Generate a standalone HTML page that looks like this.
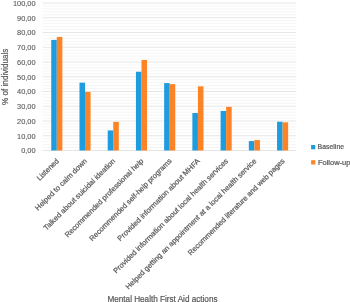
<!DOCTYPE html>
<html><head><meta charset="utf-8"><style>
html,body{margin:0;padding:0;background:#fff;width:350px;height:302px;overflow:hidden}
svg{display:block;filter:blur(0.35px)}
text{font-family:"Liberation Sans",sans-serif;fill:#595959;stroke:#595959;stroke-width:0.22px}
.yl{font-size:7.4px;stroke-width:0.1px}
.xl{font-size:7.4px}
.yt{font-size:8.6px}
.xt{font-size:8.5px}
.lg{font-size:7.3px}
</style></head><body>
<svg width="350" height="302" viewBox="0 0 350 302">
<line x1="42.69" x2="296.30" y1="147.55" y2="147.55" stroke="#F3F3F3" stroke-width="0.75"/>
<line x1="42.69" x2="296.30" y1="144.60" y2="144.60" stroke="#F3F3F3" stroke-width="0.75"/>
<line x1="42.69" x2="296.30" y1="141.65" y2="141.65" stroke="#F3F3F3" stroke-width="0.75"/>
<line x1="42.69" x2="296.30" y1="138.70" y2="138.70" stroke="#F3F3F3" stroke-width="0.75"/>
<line x1="42.69" x2="296.30" y1="132.80" y2="132.80" stroke="#F3F3F3" stroke-width="0.75"/>
<line x1="42.69" x2="296.30" y1="129.85" y2="129.85" stroke="#F3F3F3" stroke-width="0.75"/>
<line x1="42.69" x2="296.30" y1="126.90" y2="126.90" stroke="#F3F3F3" stroke-width="0.75"/>
<line x1="42.69" x2="296.30" y1="123.95" y2="123.95" stroke="#F3F3F3" stroke-width="0.75"/>
<line x1="42.69" x2="296.30" y1="118.05" y2="118.05" stroke="#F3F3F3" stroke-width="0.75"/>
<line x1="42.69" x2="296.30" y1="115.10" y2="115.10" stroke="#F3F3F3" stroke-width="0.75"/>
<line x1="42.69" x2="296.30" y1="112.15" y2="112.15" stroke="#F3F3F3" stroke-width="0.75"/>
<line x1="42.69" x2="296.30" y1="109.20" y2="109.20" stroke="#F3F3F3" stroke-width="0.75"/>
<line x1="42.69" x2="296.30" y1="103.30" y2="103.30" stroke="#F3F3F3" stroke-width="0.75"/>
<line x1="42.69" x2="296.30" y1="100.35" y2="100.35" stroke="#F3F3F3" stroke-width="0.75"/>
<line x1="42.69" x2="296.30" y1="97.40" y2="97.40" stroke="#F3F3F3" stroke-width="0.75"/>
<line x1="42.69" x2="296.30" y1="94.45" y2="94.45" stroke="#F3F3F3" stroke-width="0.75"/>
<line x1="42.69" x2="296.30" y1="88.55" y2="88.55" stroke="#F3F3F3" stroke-width="0.75"/>
<line x1="42.69" x2="296.30" y1="85.60" y2="85.60" stroke="#F3F3F3" stroke-width="0.75"/>
<line x1="42.69" x2="296.30" y1="82.65" y2="82.65" stroke="#F3F3F3" stroke-width="0.75"/>
<line x1="42.69" x2="296.30" y1="79.70" y2="79.70" stroke="#F3F3F3" stroke-width="0.75"/>
<line x1="42.69" x2="296.30" y1="73.80" y2="73.80" stroke="#F3F3F3" stroke-width="0.75"/>
<line x1="42.69" x2="296.30" y1="70.85" y2="70.85" stroke="#F3F3F3" stroke-width="0.75"/>
<line x1="42.69" x2="296.30" y1="67.90" y2="67.90" stroke="#F3F3F3" stroke-width="0.75"/>
<line x1="42.69" x2="296.30" y1="64.95" y2="64.95" stroke="#F3F3F3" stroke-width="0.75"/>
<line x1="42.69" x2="296.30" y1="59.05" y2="59.05" stroke="#F3F3F3" stroke-width="0.75"/>
<line x1="42.69" x2="296.30" y1="56.10" y2="56.10" stroke="#F3F3F3" stroke-width="0.75"/>
<line x1="42.69" x2="296.30" y1="53.15" y2="53.15" stroke="#F3F3F3" stroke-width="0.75"/>
<line x1="42.69" x2="296.30" y1="50.20" y2="50.20" stroke="#F3F3F3" stroke-width="0.75"/>
<line x1="42.69" x2="296.30" y1="44.30" y2="44.30" stroke="#F3F3F3" stroke-width="0.75"/>
<line x1="42.69" x2="296.30" y1="41.35" y2="41.35" stroke="#F3F3F3" stroke-width="0.75"/>
<line x1="42.69" x2="296.30" y1="38.40" y2="38.40" stroke="#F3F3F3" stroke-width="0.75"/>
<line x1="42.69" x2="296.30" y1="35.45" y2="35.45" stroke="#F3F3F3" stroke-width="0.75"/>
<line x1="42.69" x2="296.30" y1="29.55" y2="29.55" stroke="#F3F3F3" stroke-width="0.75"/>
<line x1="42.69" x2="296.30" y1="26.60" y2="26.60" stroke="#F3F3F3" stroke-width="0.75"/>
<line x1="42.69" x2="296.30" y1="23.65" y2="23.65" stroke="#F3F3F3" stroke-width="0.75"/>
<line x1="42.69" x2="296.30" y1="20.70" y2="20.70" stroke="#F3F3F3" stroke-width="0.75"/>
<line x1="42.69" x2="296.30" y1="14.80" y2="14.80" stroke="#F3F3F3" stroke-width="0.75"/>
<line x1="42.69" x2="296.30" y1="11.85" y2="11.85" stroke="#F3F3F3" stroke-width="0.75"/>
<line x1="42.69" x2="296.30" y1="8.90" y2="8.90" stroke="#F3F3F3" stroke-width="0.75"/>
<line x1="42.69" x2="296.30" y1="5.95" y2="5.95" stroke="#F3F3F3" stroke-width="0.75"/>
<line x1="42.69" x2="296.30" y1="150.50" y2="150.50" stroke="#DEDEDE" stroke-width="0.75"/>
<line x1="42.69" x2="296.30" y1="135.75" y2="135.75" stroke="#DEDEDE" stroke-width="0.75"/>
<line x1="42.69" x2="296.30" y1="121.00" y2="121.00" stroke="#DEDEDE" stroke-width="0.75"/>
<line x1="42.69" x2="296.30" y1="106.25" y2="106.25" stroke="#DEDEDE" stroke-width="0.75"/>
<line x1="42.69" x2="296.30" y1="91.50" y2="91.50" stroke="#DEDEDE" stroke-width="0.75"/>
<line x1="42.69" x2="296.30" y1="76.75" y2="76.75" stroke="#DEDEDE" stroke-width="0.75"/>
<line x1="42.69" x2="296.30" y1="62.00" y2="62.00" stroke="#DEDEDE" stroke-width="0.75"/>
<line x1="42.69" x2="296.30" y1="47.25" y2="47.25" stroke="#DEDEDE" stroke-width="0.75"/>
<line x1="42.69" x2="296.30" y1="32.50" y2="32.50" stroke="#DEDEDE" stroke-width="0.75"/>
<line x1="42.69" x2="296.30" y1="17.75" y2="17.75" stroke="#DEDEDE" stroke-width="0.75"/>
<line x1="42.69" x2="296.30" y1="3.00" y2="3.00" stroke="#DEDEDE" stroke-width="0.75"/>
<rect x="51.25" y="39.88" width="5.55" height="110.62" fill="#1E9CE0"/>
<rect x="56.80" y="36.92" width="5.55" height="113.58" fill="#FC8426"/>
<rect x="79.48" y="82.65" width="5.55" height="67.85" fill="#1E9CE0"/>
<rect x="85.03" y="91.94" width="5.55" height="58.56" fill="#FC8426"/>
<rect x="107.70" y="130.44" width="5.55" height="20.06" fill="#1E9CE0"/>
<rect x="113.25" y="121.89" width="5.55" height="28.61" fill="#FC8426"/>
<rect x="135.93" y="71.73" width="5.55" height="78.77" fill="#1E9CE0"/>
<rect x="141.48" y="59.94" width="5.55" height="90.56" fill="#FC8426"/>
<rect x="164.15" y="83.09" width="5.55" height="67.41" fill="#1E9CE0"/>
<rect x="169.70" y="84.12" width="5.55" height="66.38" fill="#FC8426"/>
<rect x="192.38" y="113.03" width="5.55" height="37.47" fill="#1E9CE0"/>
<rect x="197.93" y="86.34" width="5.55" height="64.16" fill="#FC8426"/>
<rect x="220.60" y="110.97" width="5.55" height="39.53" fill="#1E9CE0"/>
<rect x="226.15" y="106.84" width="5.55" height="43.66" fill="#FC8426"/>
<rect x="248.82" y="141.06" width="5.55" height="9.44" fill="#1E9CE0"/>
<rect x="254.38" y="140.03" width="5.55" height="10.47" fill="#FC8426"/>
<rect x="277.05" y="121.74" width="5.55" height="28.76" fill="#1E9CE0"/>
<rect x="282.60" y="122.33" width="5.55" height="28.17" fill="#FC8426"/>
<rect x="311.1" y="145" width="4.2" height="4.3" fill="#1E9CE0"/>
<rect x="311.1" y="160.2" width="4.2" height="4.3" fill="#FC8426"/>
<g style="will-change:transform">
<text x="35.6" y="153.40" text-anchor="end" class="yl">0,00</text>
<text x="35.6" y="138.65" text-anchor="end" class="yl">10,00</text>
<text x="35.6" y="123.90" text-anchor="end" class="yl">20,00</text>
<text x="35.6" y="109.15" text-anchor="end" class="yl">30,00</text>
<text x="35.6" y="94.40" text-anchor="end" class="yl">40,00</text>
<text x="35.6" y="79.65" text-anchor="end" class="yl">50,00</text>
<text x="35.6" y="64.90" text-anchor="end" class="yl">60,00</text>
<text x="35.6" y="50.15" text-anchor="end" class="yl">70,00</text>
<text x="35.6" y="35.40" text-anchor="end" class="yl">80,00</text>
<text x="35.6" y="20.65" text-anchor="end" class="yl">90,00</text>
<text x="35.6" y="5.90" text-anchor="end" class="yl">100,00</text>
<text x="59.30" y="161.50" text-anchor="end" class="xl" textLength="27.61" lengthAdjust="spacingAndGlyphs" transform="rotate(-45 59.30 161.50)">Listened</text>
<text x="87.53" y="161.50" text-anchor="end" class="xl" textLength="69.89" lengthAdjust="spacingAndGlyphs" transform="rotate(-45 87.53 161.50)">Helped to calm down</text>
<text x="115.75" y="161.50" text-anchor="end" class="xl" textLength="97.80" lengthAdjust="spacingAndGlyphs" transform="rotate(-45 115.75 161.50)">Talked about suicidal ideation</text>
<text x="143.98" y="161.50" text-anchor="end" class="xl" textLength="107.85" lengthAdjust="spacingAndGlyphs" transform="rotate(-45 143.98 161.50)">Recommended professional help</text>
<text x="172.20" y="161.50" text-anchor="end" class="xl" textLength="113.04" lengthAdjust="spacingAndGlyphs" transform="rotate(-45 172.20 161.50)">Recommended self-help programs</text>
<text x="200.43" y="161.50" text-anchor="end" class="xl" textLength="113.27" lengthAdjust="spacingAndGlyphs" transform="rotate(-45 200.43 161.50)">Provided information about MHFA</text>
<text x="228.65" y="161.50" text-anchor="end" class="xl" textLength="158.83" lengthAdjust="spacingAndGlyphs" transform="rotate(-45 228.65 161.50)">Provided information about local health services</text>
<text x="256.88" y="161.50" text-anchor="end" class="xl" textLength="181.47" lengthAdjust="spacingAndGlyphs" transform="rotate(-45 256.88 161.50)">Helped getting an appointment at a local health service</text>
<text x="285.10" y="161.50" text-anchor="end" class="xl" textLength="133.32" lengthAdjust="spacingAndGlyphs" transform="rotate(-45 285.10 161.50)">Recommended literature and web pages</text>
<text x="0" y="0" text-anchor="middle" class="yt" textLength="56.3" lengthAdjust="spacingAndGlyphs" transform="translate(8.0 76.75) rotate(-90)">% of individuals</text>
<text x="107.5" y="302.2" class="xt" textLength="110" lengthAdjust="spacingAndGlyphs">Mental Health First Aid actions</text>
<text x="317.6" y="148.8" class="lg" textLength="26.5" lengthAdjust="spacingAndGlyphs">Baseline</text>
<text x="317.9" y="164.5" class="lg" textLength="32.6" lengthAdjust="spacingAndGlyphs">Follow-up</text>
</g>
</svg>
</body></html>
